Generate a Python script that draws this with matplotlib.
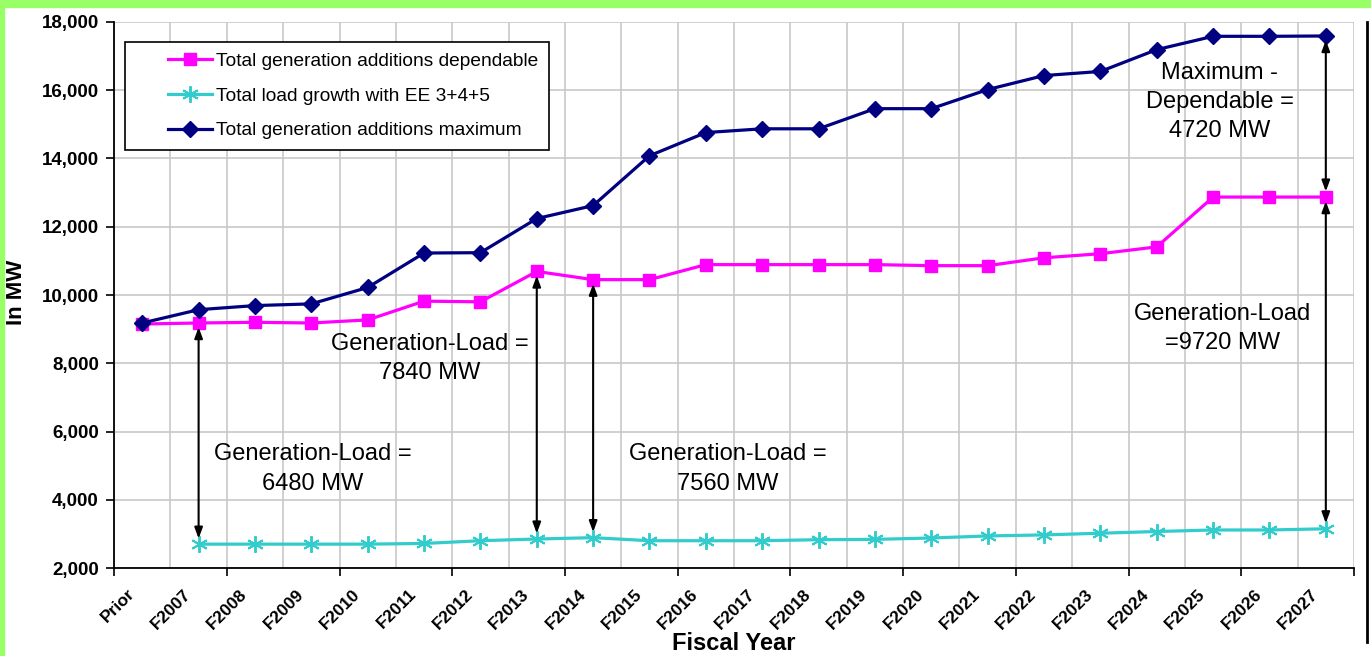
import numpy as np
import matplotlib
matplotlib.use("Agg")
import matplotlib.pyplot as plt
from matplotlib.patches import Rectangle
from matplotlib.lines import Line2D
from matplotlib.ticker import FuncFormatter
from matplotlib.legend_handler import HandlerLine2D
from matplotlib.transforms import ScaledTranslation

plt.rcParams['font.family'] = ['Liberation Sans', 'DejaVu Sans']

years = ['Prior'] + ['F%d' % y for y in range(2007, 2028)]

# MW, one value per fiscal year (load series starts at F2007)
dependable = [9150, 9180, 9200, 9180, 9270, 9820, 9800, 10690, 10450, 10450, 10890,
              10890, 10890, 10890, 10860, 10860, 11090, 11210, 11410, 12870, 12870, 12870]
load_ee = [np.nan, 2700, 2700, 2700, 2700, 2720, 2800, 2850, 2890, 2800, 2800,
           2800, 2830, 2840, 2880, 2940, 2970, 3020, 3070, 3115, 3115, 3150]
maximum = [9180, 9570, 9690, 9740, 10220, 11230, 11240, 12240, 12620, 14080, 14760,
           14870, 14870, 15460, 15460, 16020, 16430, 16550, 17190, 17580, 17580, 17590]

x = np.arange(len(years))

fig = plt.figure(figsize=(13.71, 6.56), dpi=100)
ax = fig.add_axes([0.0832, 0.1341, 0.9044, 0.8324])

# green frame on top/left edges plus the dark rule on the right
fig.patches.append(Rectangle((0, 1 - 7 / 656), 1, 7 / 656, transform=fig.transFigure,
                             color='#99ff66', zorder=0))
fig.patches.append(Rectangle((0, 0), 4 / 1371, 1, transform=fig.transFigure,
                             color='#99ff66', zorder=0))
fig.lines.append(Line2D([1367 / 1371, 1367 / 1371], [1 - 22 / 656, 1 - 642 / 656],
                        transform=fig.transFigure, color='black', lw=2))

ax.plot(x, dependable, color='#ff00ff', lw=2.3, marker='s', ms=8,
        label='Total generation additions dependable', zorder=3)
ax.plot(x, load_ee, color='#33cccc', lw=2.3, marker=(6, 2, 0), ms=12, mew=1.4,
        label='Total load growth with EE 3+4+5', zorder=3)
ax.plot(x, maximum, color='#000080', lw=2.3, marker='D', ms=8,
        label='Total generation additions maximum', zorder=3)

ax.set_xlim(-0.5, len(years) - 0.5)
ax.set_ylim(2000, 18000)
ax.set_yticks(np.arange(2000, 18001, 2000))
ax.yaxis.set_major_formatter(FuncFormatter(lambda v, p: '{:,.0f}'.format(v)))
ax.grid(axis='y', color='#c8c8c8', lw=1.2)
for b in np.arange(-0.5, len(years), 1):
    ax.axvline(b, color='#c8c8c8', lw=1.2, zorder=0)
ax.set_axisbelow(True)

ax.set_xticks(x)
ax.set_xticklabels(years, rotation=45, ha='right', va='center', rotation_mode='anchor',
                   fontweight='bold', fontsize=12.5)
ax.tick_params(axis='x', which='major', length=0, pad=17)
shift = ScaledTranslation(-10 / 100, 0, fig.dpi_scale_trans)
for t in ax.get_xticklabels():
    t.set_transform(t.get_transform() + shift)
ax.set_xticks(np.arange(-0.5, len(years), 2), minor=True)
ax.tick_params(axis='x', which='minor', length=6, width=1.2, direction='out')
ax.tick_params(axis='y', length=6, width=1.2, direction='out', labelsize=13.5, pad=5)
for t in ax.get_yticklabels():
    t.set_fontweight('bold')

for s in ['top', 'right']:
    ax.spines[s].set_visible(False)
for s in ['left', 'bottom']:
    ax.spines[s].set_linewidth(1.3)

ax.set_xlabel('Fiscal Year', fontweight='bold', fontsize=17, va='center')
ax.xaxis.set_label_coords(0.5, -0.139)
ax.set_ylabel('In MW', fontweight='bold', fontsize=16, va='center')
ax.yaxis.set_label_coords(-0.079, 0.505)

# handles sit away from the left edge of the box
pad_handler = HandlerLine2D(xpad=1.7)
leg = ax.legend(loc='upper left', bbox_to_anchor=(0.0089, 0.963), fontsize=13.8,
                frameon=True, fancybox=False, edgecolor='black', framealpha=1,
                handlelength=4.0, borderpad=0.55, labelspacing=0.9, handletextpad=0.2,
                borderaxespad=0, handler_map={Line2D: pad_handler})
leg.get_frame().set_linewidth(1.2)


def gap_arrow(i, top, bottom):
    ax.annotate('', xy=(i, bottom), xytext=(i, top),
                arrowprops=dict(arrowstyle='<|-|>,head_length=0.65,head_width=0.24',
                                color='black', lw=1.5, shrinkA=3, shrinkB=4), zorder=4)


for i in [1, 7, 8]:
    gap_arrow(i, dependable[i], load_ee[i])
last = len(years) - 1
gap_arrow(last, maximum[last], dependable[last])
gap_arrow(last, dependable[last], load_ee[last])

txt = dict(fontsize=17, ha='center', va='center', linespacing=1.42)
ax.text(3.03, 4900, 'Generation-Load =\n%d MW' % (dependable[1] - load_ee[1]), **txt)
ax.text(5.1, 8150, 'Generation-Load =\n%d MW' % (dependable[7] - load_ee[7]), **txt)
ax.text(10.39, 4900, 'Generation-Load =\n%d MW' % (dependable[8] - load_ee[8]), **txt)
ax.text(19.12, 15650, 'Maximum -\nDependable =\n%d MW' % (maximum[last] - dependable[last]), **txt)
ax.text(19.16, 9030, 'Generation-Load\n=%d MW' % (dependable[last] - load_ee[last]), **txt)

fig.savefig('out.png', dpi=100, facecolor='white')
